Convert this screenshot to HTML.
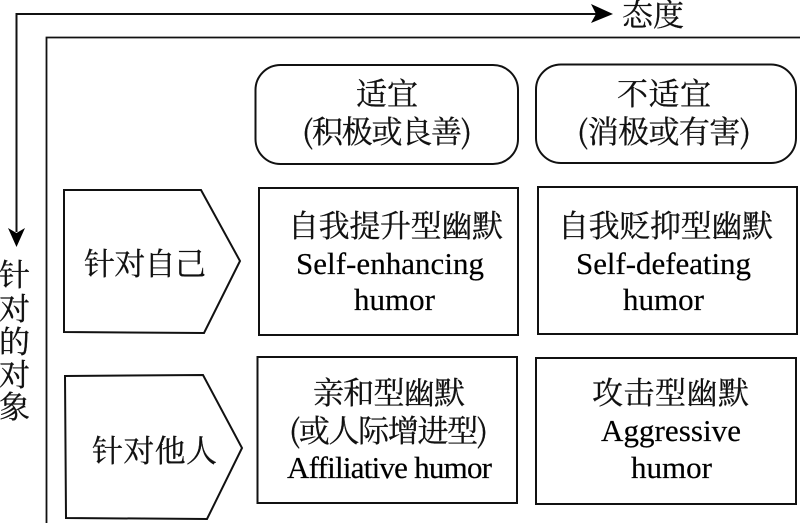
<!DOCTYPE html>
<html><head><meta charset="utf-8"><style>
html,body{margin:0;padding:0;background:#fff;width:800px;height:523px;overflow:hidden}
svg{display:block}
text{font-family:"Liberation Serif","Noto Serif CJK SC",serif;font-size:30px;fill:#111}
.c{font-family:"Noto Serif CJK SC","Liberation Serif",serif;font-size:31px;stroke:#111;stroke-width:.3px}
.s{fill:none;stroke:#111;stroke-width:2}
.e{font-size:31px;fill:#000;stroke:#000;stroke-width:.2px}
</style></head><body>
<svg width="800" height="523" viewBox="0 0 800 523" xmlns="http://www.w3.org/2000/svg">
<path class="s" d="M16.5 232V14H600"/>
<polygon points="591,4 613,14 591,23 596,14" fill="#000"/>
<polygon points="8,228 16.5,247 25,228 16.5,233" fill="#000"/>
<path class="s" style="stroke-width:1.8" d="M46.5 523V37.5H800"/>
<rect class="s" x="255.5" y="65" width="262.5" height="99" rx="25"/>
<rect class="s" x="536" y="64.5" width="260" height="98.5" rx="25"/>
<rect class="s" x="259" y="188" width="259" height="147"/>
<rect class="s" x="538" y="187" width="259" height="147"/>
<rect class="s" x="257.5" y="357" width="259.5" height="146"/>
<rect class="s" x="536" y="358" width="260" height="146"/>
<polygon class="s" points="64,190 201,190 240,261 204,333 64,332"/>
<polygon class="s" points="65,376 203,375 242,448 207,519 66,518"/>
<text class="c" x="622" y="26" textLength="62">态度</text>
<text class="c" x="356" y="105" textLength="62">适宜</text>
<text class="c" x="617" y="105" textLength="94">不适宜</text>
<text class="c" x="302" y="143" textLength="170">(积极或良善)</text>
<text class="c" x="577" y="143" textLength="174">(消极或有害)</text>
<text class="c" x="288" y="237" textLength="215">自我提升型幽默</text>
<text class="e" x="296" y="274" textLength="188">Self-enhancing</text>
<text class="e" x="354" y="310" textLength="81">humor</text>
<text class="c" x="558" y="237" textLength="215">自我贬抑型幽默</text>
<text class="e" x="576" y="274" textLength="175">Self-defeating</text>
<text class="e" x="623" y="310" textLength="81">humor</text>
<text class="c" x="313" y="404" textLength="152">亲和型幽默</text>
<text class="c" x="289" y="442" textLength="199">(或人际增进型)</text>
<text class="e" x="287" y="478" textLength="205">Affiliative humor</text>
<text class="c" x="592" y="404" textLength="157">攻击型幽默</text>
<text class="e" x="601" y="441" textLength="140">Aggressive</text>
<text class="e" x="631" y="478" textLength="81">humor</text>
<text class="c" x="84" y="275" textLength="122">针对自己</text>
<text class="c" x="92" y="462" textLength="125">针对他人</text>
<text class="c" x="-1" y="286">针</text>
<text class="c" x="-1" y="320">对</text>
<text class="c" x="-1" y="353">的</text>
<text class="c" x="-1" y="386">对</text>
<text class="c" x="-1" y="418">象</text>
</svg>
</body></html>
